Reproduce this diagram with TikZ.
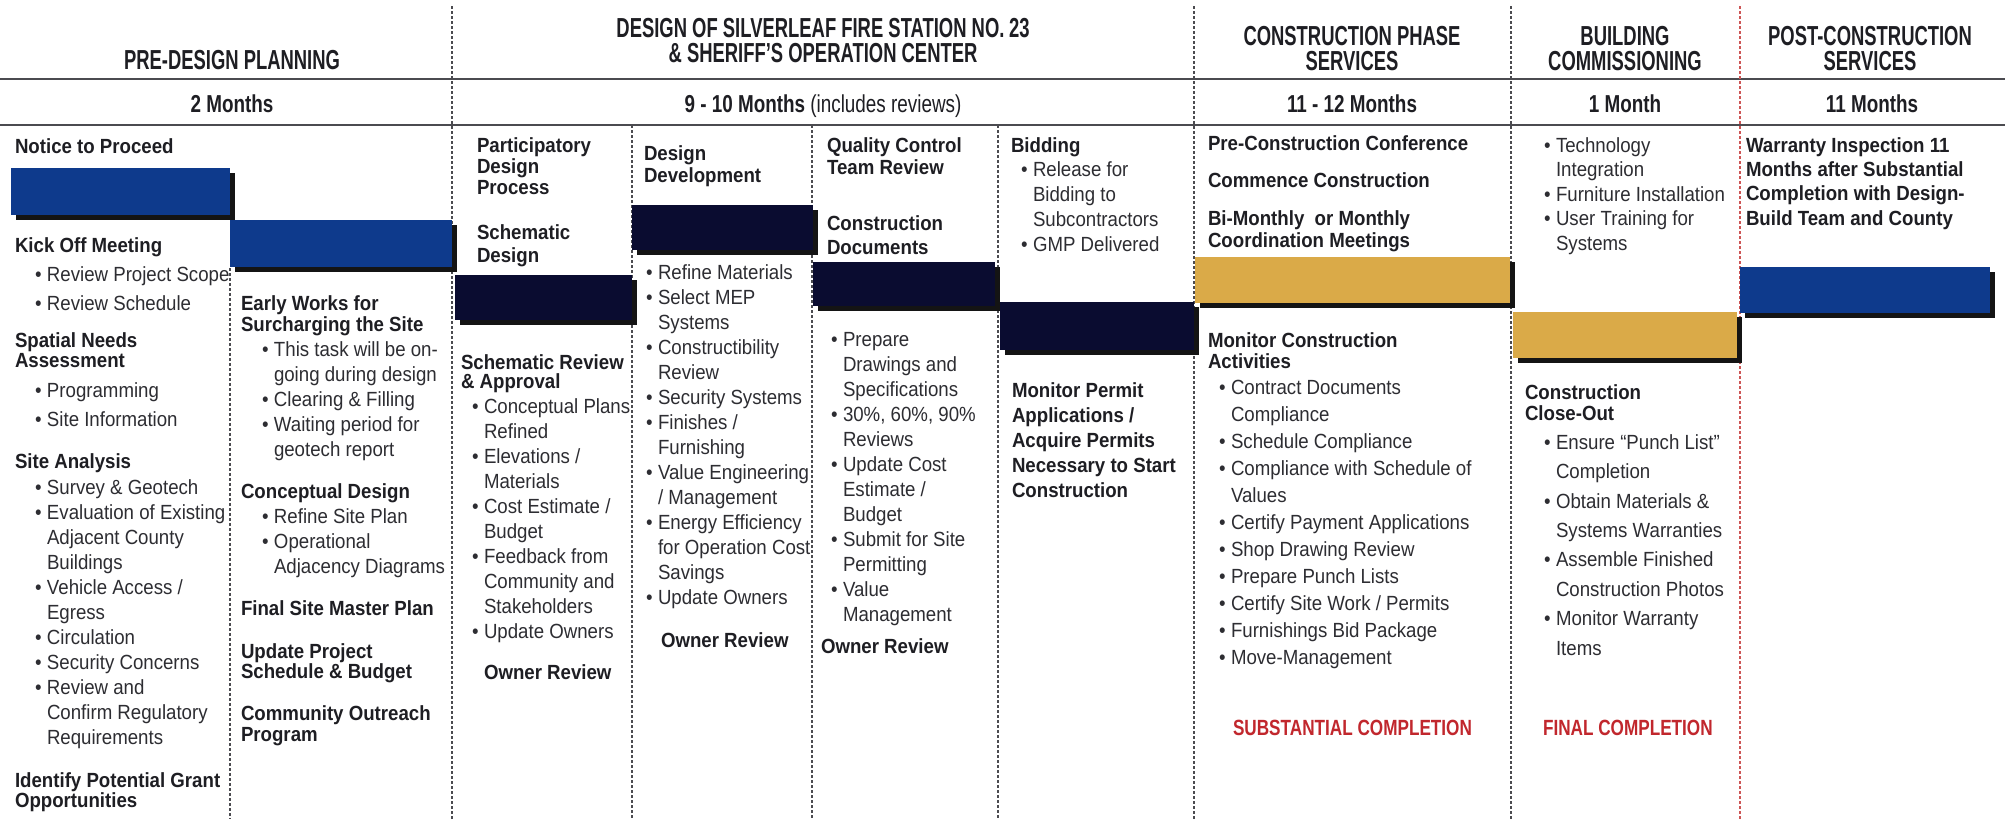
\documentclass[tikz,border=0pt]{standalone}
\usepackage{fontspec}
\setmainfont{Liberation Sans}[FakeStretch=0.91]
\newfontfamily\titlefont{Liberation Sans}[FakeStretch=0.67]
\newfontfamily\durfont{Liberation Sans}[FakeStretch=0.77]
\newfontfamily\alertfont{Liberation Sans}[FakeStretch=0.78]

\definecolor{headgray}{RGB}{30,30,35}
\definecolor{bodygray}{RGB}{45,45,50}
\definecolor{rulegray}{RGB}{75,75,80}
\definecolor{phaseblue}{RGB}{14,58,140}
\definecolor{designnavy}{RGB}{10,12,48}
\definecolor{buildgold}{RGB}{218,170,72}
\definecolor{alertred}{RGB}{193,39,45}
\definecolor{sepred}{RGB}{205,85,85}

% bullet box and matching hanging indent
\newcommand\bu{\makebox[12pt][l]{\textbullet}}
\newcommand\cn{\hspace*{12pt}}

% a schedule bar with its drop shadow
\newcommand\ganttbar[5]{%
  \fill[black!92] ({#2+5},{#3+5}) rectangle ({#4+5},{#5+5});
  \fill[#1] (#2,#3) rectangle (#4,#5);}

\tikzset{
  txt/.style={inner sep=0pt, outer sep=0pt, anchor=north west, align=left,
    text=bodygray, font=\fontsize{20.5}{#1}\selectfont},
  txt/.default=25,
  hd/.style={inner sep=0pt, outer sep=0pt, anchor=north west, align=left,
    text=headgray, font=\fontsize{20.5}{#1}\selectfont\bfseries},
  hd/.default=20.5,
  title/.style={inner sep=0pt, outer sep=0pt, align=center, text=headgray,
    font=\titlefont\bfseries\fontsize{27.5}{25}\selectfont},
  dur/.style={inner sep=0pt, outer sep=0pt, anchor=base, text=headgray,
    font=\durfont\bfseries\fontsize{24.5}{24}\selectfont},
  alert/.style={inner sep=0pt, outer sep=0pt, anchor=west, text=alertred,
    font=\alertfont\bfseries\fontsize{22}{22}\selectfont},
  rule/.style={draw=rulegray, line width=2pt},
  sep/.style={draw=rulegray, line width=1.4pt, dash pattern=on 3pt off 2pt},
  redsep/.style={draw=sepred, line width=1.2pt, dash pattern=on 3pt off 2pt},
}

\begin{document}
\begin{tikzpicture}[x=1pt,y=-1pt]
\useasboundingbox (0,0) rectangle (2005,819);
\fill[white] (0,0) rectangle (2005,819);

% header rules
\draw[rule] (0,79) -- (2005,79);
\draw[rule] (0,125) -- (2005,125);

% phase dividers
\draw[sep] (452,6) -- (452,819);
\draw[sep] (1194,6) -- (1194,819);
\draw[sep] (1511,6) -- (1511,819);
\draw[redsep] (1740,6) -- (1740,819);
% task dividers
\draw[sep] (230,268) -- (230,819);
\draw[sep] (632,125) -- (632,819);
\draw[sep] (812,125) -- (812,819);
\draw[sep] (998,125) -- (998,819);

% schedule bars
\ganttbar{phaseblue}{11}{168}{230}{215}
\ganttbar{phaseblue}{230}{220}{452}{267}
\ganttbar{designnavy}{632}{205}{813}{250}
\ganttbar{designnavy}{813}{262}{995}{306}
\ganttbar{designnavy}{455}{275}{632}{320}
\ganttbar{designnavy}{1000}{302}{1194}{350}
\ganttbar{buildgold}{1195}{257}{1510}{303}
\ganttbar{buildgold}{1513}{312}{1737}{358}
\ganttbar{phaseblue}{1740}{267}{1990}{313}

% phase titles
\node[title, anchor=center] (t-pre) at (232,60) {PRE-DESIGN PLANNING};
\node[title, anchor=north] (t-design) at (823,18.5) {DESIGN OF SILVERLEAF FIRE STATION NO.\,23\\\& SHERIFF’S OPERATION CENTER};
\node[title, anchor=north] (t-cons) at (1352,26) {CONSTRUCTION PHASE\\SERVICES};
\node[title, anchor=north] (t-comm) at (1625,26) {BUILDING\\COMMISSIONING};
\node[title, anchor=north] (t-post) at (1870,26) {POST-CONSTRUCTION\\SERVICES};

% durations
\node[dur] (d-pre) at (232,112) {2 Months};
\node[dur] (d-design) at (823,112) {9 - 10 Months {\mdseries (includes reviews)}};
\node[dur] (d-cons) at (1352,112) {11 - 12 Months};
\node[dur] (d-comm) at (1625,112) {1 Month};
\node[dur] (d-post) at (1872,112) {11 Months};

% pre-design planning, first column
\node[hd] (p-ntp) at (15,138.5) {Notice to Proceed};
\node[hd] (p-kick) at (15,237.5) {Kick Off Meeting};
\node[txt=29] (p-kick-l) at (35,266.5) {\bu Review Project Scope\\\bu Review Schedule};
\node[hd] (p-space) at (15,332.5) {Spatial Needs\\Assessment};
\node[txt=29] (p-space-l) at (35,382.5) {\bu Programming\\\bu Site Information};
\node[hd] (p-site) at (15,453.5) {Site Analysis};
\node[txt] (p-site-l) at (35,479.5) {\bu Survey \& Geotech\\\bu Evaluation of Existing\\\cn Adjacent County\\\cn Buildings\\\bu Vehicle Access /\\\cn Egress\\\bu Circulation\\\bu Security Concerns\\\bu Review and\\\cn Confirm Regulatory\\\cn Requirements};
\node[hd] (p-grant) at (15,772.5) {Identify Potential Grant\\Opportunities};

% pre-design planning, second column
\node[hd=21] (e-early) at (241,295.5) {Early Works for\\Surcharging the Site};
\node[txt] (e-early-l) at (262,341.5) {\bu This task will be on-\\\cn going during design\\\bu Clearing \& Filling\\\bu Waiting period for\\\cn geotech report};
\node[hd] (e-concept) at (241,483.5) {Conceptual Design};
\node[txt] (e-concept-l) at (262,508.5) {\bu Refine Site Plan\\\bu Operational\\\cn Adjacency Diagrams};
\node[hd] (e-final) at (241,600.5) {Final Site Master Plan};
\node[hd] (e-update) at (241,643.5) {Update Project\\Schedule \& Budget};
\node[hd=21] (e-outreach) at (241,705.5) {Community Outreach\\Program};

% design: participatory / schematic
\node[hd=21] (a-part) at (477,137.5) {Participatory\\Design\\Process};
\node[hd=23] (a-schem) at (477,224.5) {Schematic\\Design};
\node[hd=19.5] (a-review) at (461,354.5) {Schematic Review\\\& Approval};
\node[txt] (a-review-l) at (472,398.5) {\bu Conceptual Plans\\\cn Refined\\\bu Elevations /\\\cn Materials\\\bu Cost Estimate /\\\cn Budget\\\bu Feedback from\\\cn Community and\\\cn Stakeholders\\\bu Update Owners};
\node[hd] (a-owner) at (484,664.5) {Owner Review};

% design development
\node[hd=22] (b-dd) at (644,145.5) {Design\\Development};
\node[txt] (b-dd-l) at (646,264.5) {\bu Refine Materials\\\bu Select MEP\\\cn Systems\\\bu Constructibility\\\cn Review\\\bu Security Systems\\\bu Finishes /\\\cn Furnishing\\\bu Value Engineering\\\cn / Management\\\bu Energy Efficiency\\\cn for Operation Cost\\\cn Savings\\\bu Update Owners};
\node[hd] (b-owner) at (661,632.5) {Owner Review};

% quality control / construction documents
\node[hd=22] (c-qc) at (827,137.5) {Quality Control\\Team Review};
\node[hd=24] (c-cd) at (827,215.5) {Construction\\Documents};
\node[txt] (c-cd-l) at (831,332.5) {\bu Prepare\\\cn Drawings and\\\cn Specifications\\\bu 30\%, 60\%, 90\%\\\cn Reviews\\\bu Update Cost\\\cn Estimate /\\\cn Budget\\\bu Submit for Site\\\cn Permitting\\\bu Value\\\cn Management};
\node[hd] (c-owner) at (821,638.5) {Owner Review};

% bidding / permits
\node[hd] (d-bid) at (1011,137.5) {Bidding};
\node[txt] (d-bid-l) at (1021,161.5) {\bu Release for\\\cn Bidding to\\\cn Subcontractors\\\bu GMP Delivered};
\node[hd=25] (d-permit) at (1012,382.5) {Monitor Permit\\Applications /\\Acquire Permits\\Necessary to Start\\Construction};

% construction phase services
\node[hd] (k-pre) at (1208,135.5) {Pre-Construction Conference};
\node[hd] (k-start) at (1208,172.5) {Commence Construction};
\node[hd=22] (k-meet) at (1208,210.5) {Bi-Monthly\ \ or Monthly\\Coordination Meetings};
\node[hd=21] (k-mon) at (1208,332.5) {Monitor Construction\\Activities};
\node[txt=27] (k-mon-l) at (1219,380.5) {\bu Contract Documents\\\cn Compliance\\\bu Schedule Compliance\\\bu Compliance with Schedule of\\\cn Values\\\bu Certify Payment Applications\\\bu Shop Drawing Review\\\bu Prepare Punch Lists\\\bu Certify Site Work / Permits\\\bu Furnishings Bid Package\\\bu Move-Management};
\node[alert] (k-sub) at (1233,728) {SUBSTANTIAL COMPLETION};

% building commissioning
\node[txt=24.5] (m-top-l) at (1544,137.5) {\bu Technology\\\cn Integration\\\bu Furniture Installation\\\bu User Training for\\\cn Systems};
\node[hd=21] (m-close) at (1525,384.5) {Construction\\Close-Out};
\node[txt=29.4] (m-close-l) at (1544,434.5) {\bu Ensure “Punch List”\\\cn Completion\\\bu Obtain Materials \&\\\cn Systems Warranties\\\bu Assemble Finished\\\cn Construction Photos\\\bu Monitor Warranty\\\cn Items};
\node[alert] (m-final) at (1543,728) {FINAL COMPLETION};

% post-construction services
\node[hd=24.3] (w-warr) at (1746,137.5) {Warranty Inspection 11\\Months after Substantial\\Completion with Design-\\Build Team and County};

\end{tikzpicture}
\end{document}
